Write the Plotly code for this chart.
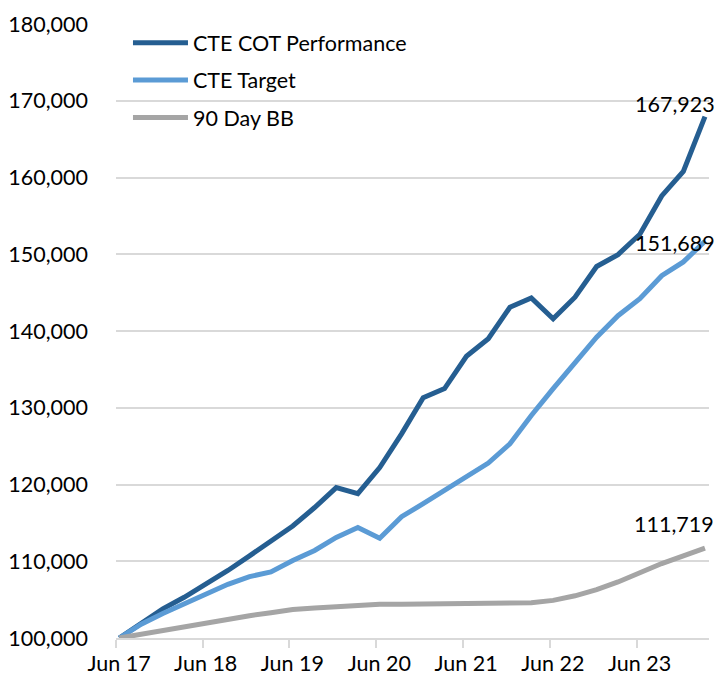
import pandas as pd
import plotly.graph_objects as go

quarters = ["Jun 17", "Sep 17", "Dec 17", "Mar 18", "Jun 18", "Sep 18", "Dec 18", "Mar 19",
            "Jun 19", "Sep 19", "Dec 19", "Mar 20", "Jun 20", "Sep 20", "Dec 20", "Mar 21",
            "Jun 21", "Sep 21", "Dec 21", "Mar 22", "Jun 22", "Sep 22", "Dec 22", "Mar 23",
            "Jun 23", "Sep 23", "Dec 23", "Mar 24"]

cot_performance = [100000, 101900, 103800, 105300, 107000, 108800, 110700, 112700,
                   114600, 117000, 119600, 118800, 122200, 126600, 131300, 132500,
                   136700, 139000, 143100, 144300, 141600, 144400, 148400, 149950,
                   152600, 157600, 160800, 167923]

cte_target = [100000, 101800, 103200, 104400, 105800, 107000, 108000, 108600,
              110100, 111400, 113100, 114400, 113000, 115800, 117500, 119300,
              121000, 122800, 125300, 129000, 132500, 135800, 139200, 142000,
              144200, 147200, 149000, 151689]

bb_90day = [100000, 100500, 101000, 101400, 101900, 102400, 102900, 103300,
            103700, 103900, 104100, 104300, 104400, 104400, 104450, 104450,
            104500, 104500, 104500, 104600, 104900, 105500, 106300, 107300,
            108500, 109700, 110700, 111719]

series_names = ["CTE COT Performance", "CTE Target", "90 Day BB"]
series_values = [cot_performance, cte_target, bb_90day]
series_colors = ["#255E91", "#5B9BD5", "#A5A5A5"]
end_label_shift = [(12, 13), (12, -2), (11, 24)]

# quarters are plotted mid-month on a date axis
x_dates = pd.to_datetime(quarters, format="%b %y") + pd.Timedelta(days=14)

FONT = "Lato, 'Liberation Sans', Arial, sans-serif"
FS = 21.5
GRID = "#D9D9D9"

fig = go.Figure()
for i, (name, vals, col) in enumerate(zip(series_names, series_values, series_colors)):
    fig.add_trace(go.Scatter(
        x=x_dates, y=vals, name=name, mode="lines",
        line=dict(color=col, width=5), legendgroup=f"g{i}",
    ))
    xs, ys = end_label_shift[i]
    fig.add_annotation(
        x=x_dates[-1], y=vals[-1], text=f"{vals[-1]:,}", showarrow=False,
        xanchor="right", yanchor="middle", xshift=xs, yshift=ys,
        font=dict(family=FONT, size=FS, color="#000000"),
    )

fig.update_layout(
    width=718, height=676,
    margin=dict(l=116, r=9, t=24, b=38, pad=0, autoexpand=False),
    plot_bgcolor="white", paper_bgcolor="white",
    font=dict(family=FONT, size=FS, color="#000000"),
    showlegend=True,
    legend=dict(
        x=0.0202, y=1.003, xanchor="left", yanchor="top",
        bgcolor="rgba(0,0,0,0)", tracegroupgap=6.5, itemwidth=55,
        font=dict(family=FONT, size=FS, color="#000000"),
    ),
)
fig.update_xaxes(
    type="date", range=["2017-06-01", "2024-04-01"], automargin=False,
    tick0="2017-06-01", dtick="M12", tickformat="%b %y",
    showgrid=False, showline=True, linecolor=GRID, linewidth=1.5,
    ticks="outside", ticklen=8, tickcolor=GRID, tickwidth=1.5,
    ticklabelshift=3, ticklabelstandoff=-3,
)
fig.update_yaxes(
    range=[100000, 180000], dtick=10000, tickformat=",d", automargin=False,
    showgrid=True, gridcolor=GRID, gridwidth=1.5,
    zeroline=False, showline=False, ticks="",
    ticklabelstandoff=27,
)

fig.write_html("out.html", config={"displayModeBar": False},
               post_script="document.body.style.margin='0';")
